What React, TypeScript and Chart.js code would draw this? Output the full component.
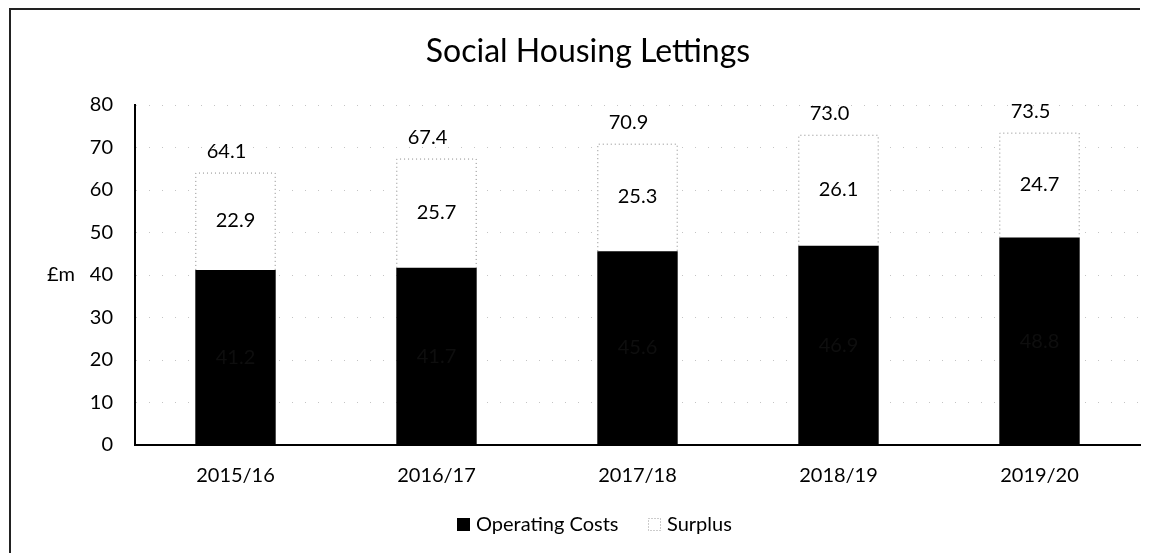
import React, { useEffect, useRef } from "react";
import { Chart, registerables } from "chart.js";

Chart.register(...registerables);

const categories = ["2015/16", "2016/17", "2017/18", "2018/19", "2019/20"];
const operatingCosts = [41.2, 41.7, 45.6, 46.9, 48.8];
const surplus = [22.9, 25.7, 25.3, 26.1, 24.7];
const totals = [64.1, 67.4, 70.9, 73.0, 73.5];
const yTicks = [0, 10, 20, 30, 40, 50, 60, 70, 80];

const FONT = "Lato, 'Open Sans', sans-serif";
const SMALL = 20;

const overlayPlugin = {
  id: "overlay",
  afterDatasetsDraw(chart: any) {
    const ctx = chart.ctx;
    ctx.save();
    // dotted outline of surplus bars
    const sMeta = chart.getDatasetMeta(1);
    ctx.strokeStyle = "#888";
    ctx.lineWidth = 1;
    ctx.setLineDash([1, 3]);
    sMeta.data.forEach((bar: any) => {
      const l = bar.x - bar.width / 2 + 0.5;
      const r = bar.x + bar.width / 2 - 0.5;
      ctx.beginPath();
      ctx.moveTo(l, bar.base);
      ctx.lineTo(l, bar.y + 0.5);
      ctx.lineTo(r, bar.y + 0.5);
      ctx.lineTo(r, bar.base);
      ctx.stroke();
    });
    ctx.setLineDash([]);
    ctx.font = `${SMALL}px ${FONT}`;
    ctx.textAlign = "center";
    ctx.textBaseline = "middle";
    // operating labels (dark on black)
    const oMeta = chart.getDatasetMeta(0);
    ctx.fillStyle = "#0e0e0e";
    oMeta.data.forEach((bar: any, i: number) => {
      ctx.fillText(operatingCosts[i].toFixed(1), bar.x, (bar.y + bar.base) / 2);
    });
    ctx.fillStyle = "#000";
    sMeta.data.forEach((bar: any, i: number) => {
      ctx.fillText(surplus[i].toFixed(1), bar.x, (bar.y + bar.base) / 2 - 1);
    });
    const yScale = chart.scales.y;
    sMeta.data.forEach((bar: any, i: number) => {
      ctx.fillText(totals[i].toFixed(1), bar.x - 9, yScale.getPixelForValue(totals[i]) - 21);
    });
    ctx.restore();
  },
  afterDraw(chart: any) {
    const ctx = chart.ctx;
    ctx.save();
    // frame
    ctx.strokeStyle = "#222";
    ctx.lineWidth = 2;
    ctx.beginPath();
    ctx.moveTo(10, 553);
    ctx.lineTo(10, 9);
    ctx.lineTo(1140, 9);
    ctx.stroke();
    // title
    ctx.fillStyle = "#000";
    ctx.textAlign = "center";
    ctx.textBaseline = "middle";
    ctx.font = `32px ${FONT}`;
    ctx.fillText("Social Housing Lettings", 588, 52);
    // y axis title
    ctx.font = `${SMALL}px ${FONT}`;
    ctx.textAlign = "left";
    ctx.fillText("£m", 47, 275);
    // legend
    ctx.fillStyle = "#000";
    ctx.fillRect(457, 518, 13, 13);
    ctx.fillText("Operating Costs", 476, 525);
    ctx.strokeStyle = "#999";
    ctx.lineWidth = 1;
    ctx.setLineDash([1, 2]);
    ctx.strokeRect(648.5, 518.5, 12, 12);
    ctx.setLineDash([]);
    ctx.fillStyle = "#000";
    ctx.fillText("Surplus", 667, 525);
    ctx.restore();
  },
};

export default function App() {
  const ref = useRef<HTMLCanvasElement>(null);
  useEffect(() => {
    document.body.style.margin = "0";
    const chart = new Chart(ref.current as HTMLCanvasElement, {
      type: "bar",
      data: {
        labels: categories,
        datasets: [
          {
            label: "Operating Costs",
            data: operatingCosts,
            backgroundColor: "#000",
            barPercentage: 0.4,
            categoryPercentage: 1,
          },
          {
            label: "Surplus",
            data: surplus,
            backgroundColor: "#fff",
            borderWidth: 0,
            barPercentage: 0.4,
            categoryPercentage: 1,
          },
        ],
      },
      options: {
        responsive: false,
        animation: false,
        layout: { padding: { top: 105, left: 0, right: 17, bottom: 0 } },
        plugins: {
          legend: { display: false },
          title: { display: false },
          tooltip: { enabled: false },
        },
        scales: {
          x: {
            stacked: true,
            grid: { display: false, drawTicks: false },
            border: { display: true, color: "#000", width: 2 },
            ticks: { color: "#000", font: { family: FONT, size: SMALL }, padding: 19 },
            afterFit(scale: any) {
              scale.height = 108;
            },
          },
          y: {
            stacked: true,
            min: 0,
            max: 80,
            afterBuildTicks(scale: any) {
              scale.ticks = yTicks.map((v) => ({ value: v }));
            },
            grid: { color: "#c4c4c4", drawTicks: false, lineWidth: 1 },
            border: { display: true, color: "#000", width: 2, dash: [1, 12] },
            ticks: { color: "#000", font: { family: FONT, size: SMALL }, padding: 22 },
            afterFit(scale: any) {
              scale.width = 135;
            },
          },
        },
      },
      plugins: [overlayPlugin],
    });
    return () => chart.destroy();
  }, []);
  return (
    <div style={{ position: "absolute", left: 0, top: 0, width: 1157, height: 553, background: "#fff" }}>
      <canvas ref={ref} width={1157} height={553} />
    </div>
  );
}
